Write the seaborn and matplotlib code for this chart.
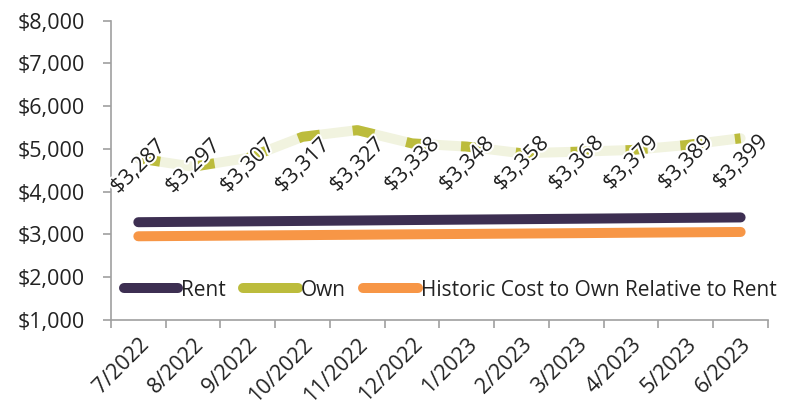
import pandas as pd
import seaborn as sns
import matplotlib.pyplot as plt
import matplotlib.patheffects as pe
from matplotlib.lines import Line2D
from matplotlib.ticker import FuncFormatter, FixedLocator

months = ['7/2022', '8/2022', '9/2022', '10/2022', '11/2022', '12/2022',
          '1/2023', '2/2023', '3/2023', '4/2023', '5/2023', '6/2023']
rent = [3287, 3297, 3307, 3317, 3327, 3338, 3348, 3358, 3368, 3379, 3389, 3399]
own = [4780, 4585, 4790, 5285, 5440, 5130, 5055, 4900, 4935, 4975, 5090, 5250]
historic = [2958, 2967, 2976, 2985, 2994, 3004, 3013, 3022, 3031, 3041, 3050, 3059]

RENT_C = '#3d2f52'
OWN_C = '#bcbc3c'
OWN_BG = '#f1f3df'
HIST_C = '#f79646'
FS = 15.5

sns.set_style('white')
plt.rcParams['font.family'] = ['Open Sans', 'DejaVu Sans']

df = pd.DataFrame({'x': range(len(months)), 'rent': rent, 'own': own, 'historic': historic})

fig = plt.figure(figsize=(7.96, 4.13), dpi=100)
ax = fig.add_axes([0.1394, 0.2252, 0.8254, 0.7247])

lw = 7.2
sns.lineplot(data=df, x='x', y='own', ax=ax, color=OWN_BG, lw=lw)
sns.lineplot(data=df, x='x', y='own', ax=ax, color=OWN_C, lw=lw)
ax.lines[-1].set_linestyle((0, (2.2, 3.3)))
ax.lines[-1].set_dash_capstyle('butt')
sns.lineplot(data=df, x='x', y='rent', ax=ax, color=RENT_C, lw=lw)
ax.lines[-1].set_solid_capstyle('round')
sns.lineplot(data=df, x='x', y='historic', ax=ax, color=HIST_C, lw=lw)
ax.lines[-1].set_solid_capstyle('round')

# data labels
for i, v in enumerate(rent):
    ax.annotate(f'${v:,}', (i, v), xytext=(0, 55), textcoords='offset pixels',
                ha='center', va='center', rotation=45, fontsize=FS, color='#222222',
                path_effects=[pe.withStroke(linewidth=3, foreground='white')])

ax.set_xlim(-0.5, len(months) - 0.5)
ax.set_ylim(1000, 8000)
ax.set_yticks(range(1000, 8001, 1000))
ax.yaxis.set_major_formatter(FuncFormatter(lambda v, p: f'${int(v):,}'))
ax.set_xticks(range(len(months)))
ax.set_xticklabels(months, rotation=45, ha='right', rotation_mode='anchor')
ax.xaxis.set_minor_locator(FixedLocator([i - 0.5 for i in range(len(months) + 1)]))
ax.tick_params(axis='x', which='major', length=0, pad=10, labelsize=FS, labelcolor='#222222')
ax.tick_params(axis='x', which='minor', length=6, color='#a0a0a0', width=1.2, bottom=True)
ax.tick_params(axis='y', length=6, color='#a0a0a0', width=1.2, left=True, labelsize=FS,
               labelcolor='#222222', pad=13)
ax.set_xlabel('')
ax.set_ylabel('')
for s in ['top', 'right']:
    ax.spines[s].set_visible(False)
for s in ['left', 'bottom']:
    ax.spines[s].set_color('#a0a0a0')
    ax.spines[s].set_linewidth(1.2)

handles = [Line2D([], [], color=c, lw=lw, solid_capstyle='round') for c in (RENT_C, OWN_C, HIST_C)]
ax.legend(handles, ['Rent', 'Own', 'Historic Cost to Own Relative to Rent'], loc='center',
          bbox_to_anchor=(0.516, 0.1), ncol=3, frameon=False, fontsize=15,
          handlelength=2.6, handletextpad=0.15, columnspacing=0.85, labelcolor='#222222')

fig.savefig('out.png', dpi=100)
